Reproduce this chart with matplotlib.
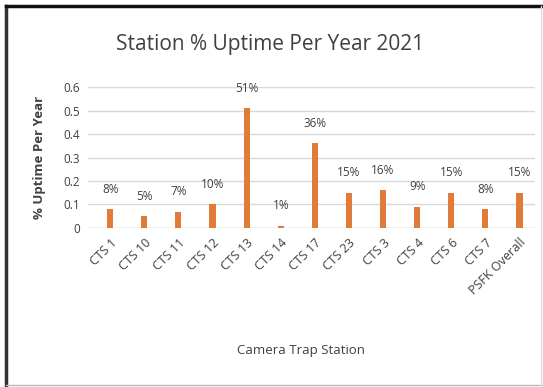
import matplotlib
matplotlib.use("Agg")
import matplotlib.pyplot as plt
from matplotlib.lines import Line2D

categories = ["CTS 1", "CTS 10", "CTS 11", "CTS 12", "CTS 13", "CTS 14", "CTS 17",
              "CTS 23", "CTS 3", "CTS 4", "CTS 6", "CTS 7", "PSFK Overall"]
values = [0.08, 0.05, 0.07, 0.10, 0.51, 0.01, 0.36, 0.15, 0.16, 0.09, 0.15, 0.08, 0.15]
labels = ["8%", "5%", "7%", "10%", "51%", "1%", "36%", "15%", "16%", "9%", "15%", "8%", "15%"]
yticks = [0, 0.1, 0.2, 0.3, 0.4, 0.5, 0.6]
ytick_labels = ["0", "0.1", "0.2", "0.3", "0.4", "0.5", "0.6"]

plt.rcParams['font.family'] = ['Open Sans', 'DejaVu Sans']
fig = plt.figure(figsize=(5.43, 3.87), dpi=100)
ax = fig.add_axes([0.162, 0.411, 0.823, 0.364])

x = range(len(categories))
bars = ax.bar(x, values, width=0.18, color="#E07B39", zorder=3)
for xi, v, lab in zip(x, values, labels):
    ax.text(xi, v + 0.085, lab, ha="center", va="center", fontsize=8.5, color="#404040")

ax.set_ylim(0, 0.6)
ax.set_xlim(-0.65, len(categories) - 0.55)
ax.set_yticks(yticks)
ax.set_yticklabels(ytick_labels, fontsize=8.5, color="#404040")
ax.set_xticks(list(x))
ax.set_xticklabels(categories, rotation=45, ha="right", rotation_mode="anchor",
                   fontsize=9, color="#404040")
ax.tick_params(length=0, pad=6)
ax.grid(axis="y", color="#D9D9D9", linewidth=1, zorder=0)
for s in ax.spines.values():
    s.set_visible(False)
ax.axhline(0, color="#D9D9D9", linewidth=1, zorder=1)

ax.set_ylabel("% Uptime Per Year", fontsize=9.5, fontweight="bold", color="#404040", labelpad=12)
fig.text(0.497, 0.885, "Station % Uptime Per Year 2021", ha="center", va="center",
         fontsize=15, color="#404040")
fig.text(0.555, 0.095, "Camera Trap Station", ha="center", va="center",
         fontsize=9.5, color="#404040")

# outer frame
fig.add_artist(Line2D([0.011, 0.011], [0.005, 0.985], transform=fig.transFigure, color="#333333", lw=2.5))
fig.add_artist(Line2D([0.011, 0.998], [0.985, 0.985], transform=fig.transFigure, color="#111111", lw=2.5))
fig.add_artist(Line2D([0.011, 0.998], [0.005, 0.005], transform=fig.transFigure, color="#BBBBBB", lw=1))
fig.add_artist(Line2D([0.997, 0.997], [0.005, 0.985], transform=fig.transFigure, color="#DDDDDD", lw=1))

fig.savefig("out.png", dpi=100)
